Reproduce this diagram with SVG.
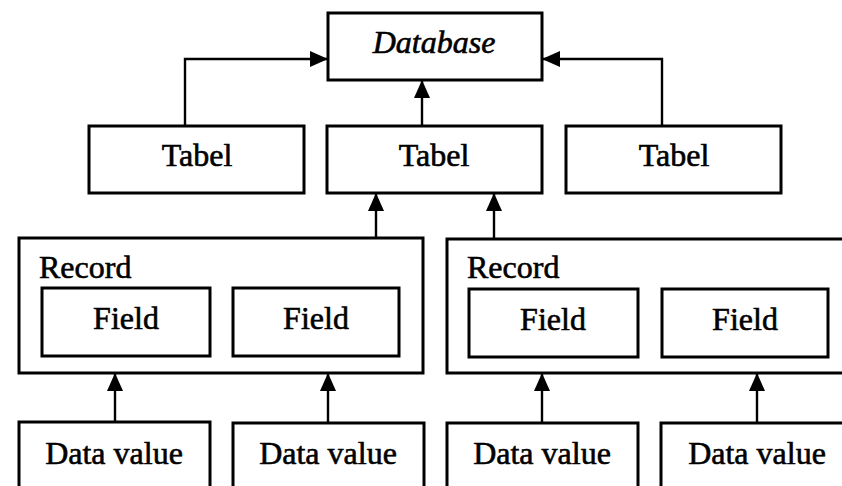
<svg xmlns="http://www.w3.org/2000/svg" width="842" height="486" viewBox="0 0 842 486">
  <style>
    .box { fill: #ffffff; stroke: #000000; stroke-width: 3; }
    .lbl { font-family: "Liberation Serif", "Times New Roman", serif; font-size: 32px; fill: #000000; stroke: #000000; stroke-width: 0.6; text-anchor: middle; }
    .tag { font-family: "Liberation Serif", "Times New Roman", serif; font-size: 32px; fill: #000000; stroke: #000000; stroke-width: 0.6; }
    .it { font-style: italic; }
    .link { fill: none; stroke: #000000; stroke-width: 2.4; marker-end: url(#head); }
  </style>
  <defs>
    <marker id="head" markerUnits="userSpaceOnUse" markerWidth="18" markerHeight="16" viewBox="0 0 18 16" refX="17" refY="8" orient="auto">
      <path d="M0,0 L18,8 L0,16 Z" fill="#000000"/>
    </marker>
  </defs>
  <rect width="842" height="486" fill="#ffffff"/>

  <g id="database">
    <rect class="box" x="328" y="13" width="214" height="67"/>
    <text class="lbl it" x="434" y="53">Database</text>
  </g>

  <g id="tabel-1">
    <rect class="box" x="89" y="126" width="215" height="67"/>
    <text class="lbl" x="197" y="166">Tabel</text>
  </g>
  <g id="tabel-2">
    <rect class="box" x="327" y="126" width="215" height="67"/>
    <text class="lbl" x="434" y="166">Tabel</text>
  </g>
  <g id="tabel-3">
    <rect class="box" x="566" y="126" width="215" height="67"/>
    <text class="lbl" x="674" y="166">Tabel</text>
  </g>

  <g id="record-1">
    <rect class="box" x="19" y="238" width="404" height="135"/>
    <text class="tag" x="39" y="278">Record</text>
    <g id="field-1">
      <rect class="box" x="42" y="288" width="168" height="68"/>
      <text class="lbl" x="126" y="329">Field</text>
    </g>
    <g id="field-2">
      <rect class="box" x="233" y="288" width="166" height="68"/>
      <text class="lbl" x="316" y="329">Field</text>
    </g>
  </g>

  <g id="record-2">
    <rect class="box" x="447" y="239" width="410" height="134"/>
    <text class="tag" x="467" y="278">Record</text>
    <g id="field-3">
      <rect class="box" x="469" y="289" width="169" height="68"/>
      <text class="lbl" x="553" y="330">Field</text>
    </g>
    <g id="field-4">
      <rect class="box" x="662" y="289" width="166" height="68"/>
      <text class="lbl" x="745" y="330">Field</text>
    </g>
  </g>

  <g id="data-value-1">
    <rect class="box" x="19" y="422" width="191" height="80"/>
    <text class="lbl" x="114" y="464">Data value</text>
  </g>
  <g id="data-value-2">
    <rect class="box" x="233" y="423" width="191" height="80"/>
    <text class="lbl" x="328" y="464">Data value</text>
  </g>
  <g id="data-value-3">
    <rect class="box" x="447" y="423" width="191" height="80"/>
    <text class="lbl" x="542" y="464">Data value</text>
  </g>
  <g id="data-value-4">
    <rect class="box" x="661" y="423" width="200" height="80"/>
    <text class="lbl" x="757" y="464">Data value</text>
  </g>

  <g id="connectors">
    <polyline class="link" points="185,126 185,59 327,59"/>
    <polyline class="link" points="662,126 662,59 543,59"/>
    <line class="link" x1="422" y1="126" x2="422" y2="81"/>
    <line class="link" x1="376" y1="238" x2="376" y2="194"/>
    <line class="link" x1="494" y1="239" x2="494" y2="194"/>
    <line class="link" x1="115" y1="422" x2="115" y2="374"/>
    <line class="link" x1="328" y1="423" x2="328" y2="374"/>
    <line class="link" x1="542" y1="423" x2="542" y2="374"/>
    <line class="link" x1="757" y1="423" x2="757" y2="374"/>
  </g>
</svg>
